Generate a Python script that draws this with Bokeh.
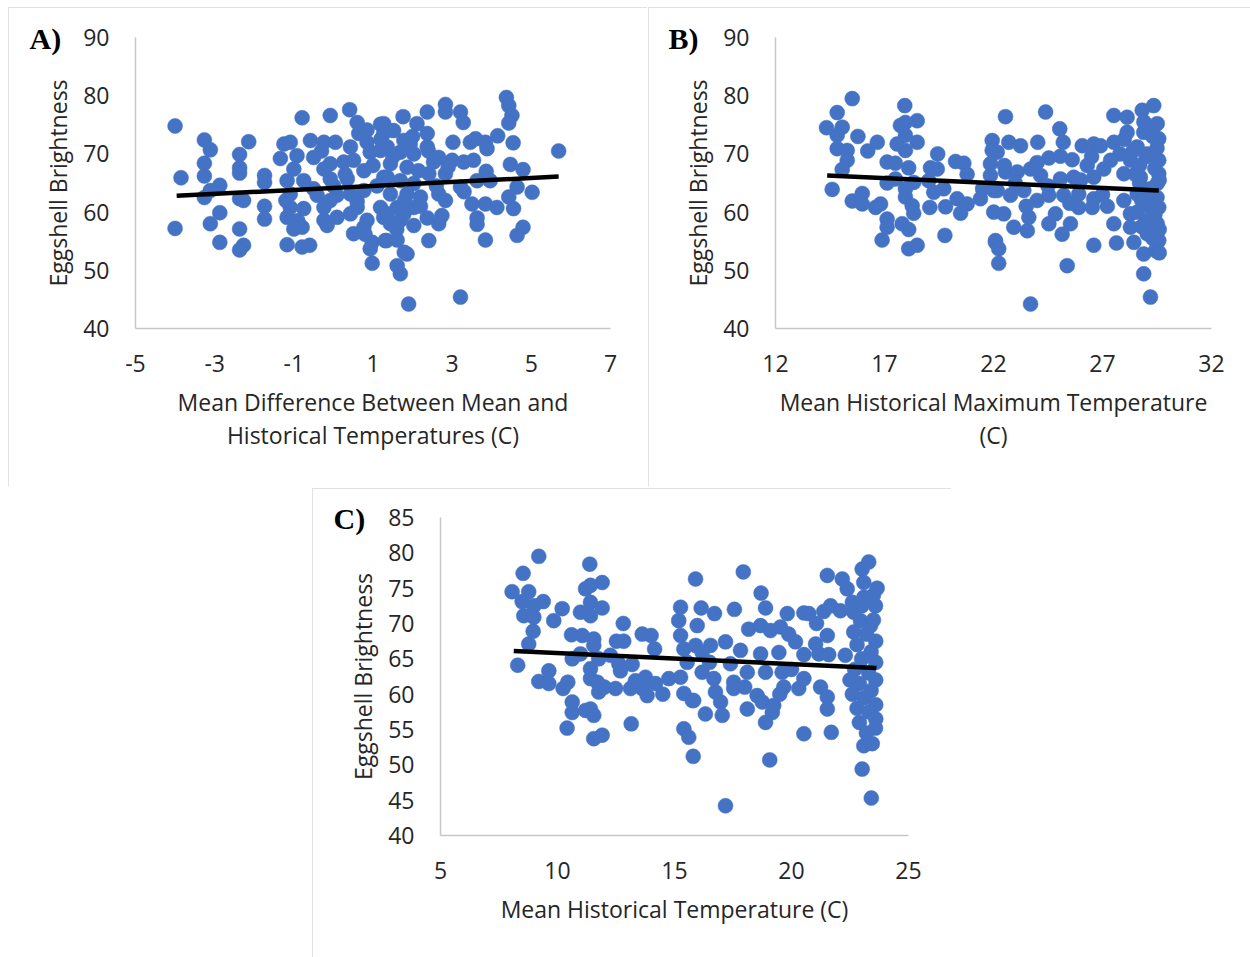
from bokeh.plotting import figure
from bokeh.layouts import column, row
from bokeh.models import Spacer, FixedTicker, Range1d
from bokeh.embed import file_html
from bokeh.resources import INLINE

FONT = "Open Sans"
BLUE = "#4472C4"
TXT = "#262626"

# ---------------- Panel A: mean difference vs brightness ----------------
a_x = [-4.0, -3.85, -4.0, -3.26, -3.11, -3.26, -3.26, -2.87, -3.11, -3.26,
       -2.87, -3.11, -2.87, -2.14, -2.37, -2.37, -2.37, -2.37, -2.27, -2.37,
       -2.27, -2.37, -1.74, -1.74, -1.74, -1.74, -1.17, -0.79, -0.08, 0.41,
       0.60, 0.85, 1.19, -0.79, -0.60, 0.98, 0.93, 0.98, 1.31, 0.51,
       -1.0, -0.79,
       -1.25, -1.34, -1.09, -0.58, -0.24, 0.05, 0.43, 0.64, 0.85, 1.27,
       -0.50, -0.92, -1.0, -0.75, -1.17, -0.08, -0.24, 0.26, 0.51, 0.93,
       1.19, -0.08, 0.35, 0.77, 1.27, -1.09, -0.41, 0.09, 0.43, 0.77,
       -1.09, -0.75, -0.24, -0.08, 0.60, 1.19, -1.17, -0.24, 0.09, 0.43,
       0.85, 1.27, -0.16, 0.77,
       4.37, 4.43, 4.51, 4.43, 4.54, 5.69, 4.15, 4.47, 4.79, 5.02,
       4.64, 4.43, 4.55, 4.79, 4.64, 3.84, 3.63, 3.63, 3.21, 1.90,
       1.69, 1.61, 1.86, 1.79, 2.41, 1.34, 1.61, 2.83, 2.83, 3.21,
       3.28, 2.37, 1.76, 2.11, 2.37, 2.37, 3.02, 3.46, 3.59, 3.84,
       3.88, 2.66, 2.53, 3.0, 3.29, 3.54, 3.86, 3.96, 3.63, 3.21,
       2.83, 2.41, 2.66, 2.83, 3.50, 3.84, 4.13, 2.74, 2.66, 2.37,
       2.03, 1.69, 1.44, 1.27, 1.52, 1.78, 1.94, 1.36, 1.69, 2.03,
       1.44, 1.86, 2.15, 1.36, 1.69, 2.03, 1.44, 1.86, 2.20, 1.61,
       2.03, 1.36, 1.78,
       1.5, 1.0, 0.3, -0.5, 1.8, 2.2, 0.6, 1.1, 2.6, 2.4,
       -0.3, 0.0, 1.6, 0.8, 2.9, -1.2, -0.9, 3.3, 1.2, 2.0]
a_y = [74.8, 65.9, 57.2, 72.4, 70.7, 68.4, 66.2, 64.6, 63.7, 62.5,
       59.9, 58.0, 54.8, 72.1, 69.9, 67.6, 66.7, 62.3, 62.0, 57.1,
       54.3, 53.5, 66.3, 65.1, 61.0, 58.8, 54.4, 76.2, 76.6, 77.6,
       75.4, 74.1, 75.1, 54.0, 54.3, 51.2, 53.7, 54.8, 55.1, 56.3,
       57.1, 57.4,
       71.7, 69.2, 72.0, 72.3, 72.0, 72.0, 71.2, 73.5, 72.0, 73.5,
       69.4, 69.7, 67.4, 65.4, 65.4, 68.3, 67.4, 68.6, 68.9, 70.3,
       70.6, 65.7, 65.7, 67.1, 66.0, 63.1, 62.9, 62.9, 63.1, 63.7,
       60.8, 60.6, 60.8, 62.0, 60.8, 60.8, 59.1, 58.6, 59.1, 59.7,
       58.6, 59.1, 57.7, 57.4,
       79.7, 78.3, 76.6, 75.3, 71.9, 70.5, 73.1, 68.2, 67.3, 63.4,
       64.3, 62.6, 60.6, 57.4, 56.0, 55.2, 59.0, 57.9, 45.4, 44.2,
       49.4, 50.8, 52.8, 53.1, 55.1, 55.1, 55.2, 78.5, 77.2, 77.2,
       75.4, 77.2, 76.4, 75.2, 73.5, 71.2, 72.0, 72.0, 72.6, 72.0,
       70.9, 69.4, 68.6, 68.9, 68.6, 68.9, 67.0, 65.4, 65.4, 64.3,
       66.6, 66.6, 63.1, 62.0, 61.4, 61.4, 60.8, 59.4, 58.0, 59.0,
       57.7, 58.6, 58.0, 75.2, 74.0, 72.3, 71.7, 71.2, 70.3, 70.0,
       68.3, 67.7, 67.1, 66.0, 65.4, 64.9, 63.1, 63.1, 62.6, 60.8,
       60.8, 59.7, 59.7,
       69.5, 68.0, 66.5, 64.0, 62.0, 61.0, 61.8, 64.5, 64.5, 70.5,
       70.5, 64.5, 57.0, 56.2, 67.8, 62.0, 58.5, 63.5, 72.5, 73.0]
a_trend_x = [-3.96, 5.69]
a_trend_y = [62.8, 66.1]
a_xticks = [-5, -3, -1, 1, 3, 5, 7]
a_xtick_labels = {-5: "-5", -3: "-3", -1: "-1", 1: "1", 3: "3", 5: "5", 7: "7"}

# ---------------- Panel B: historical maximum temperature ----------------
b_x = [15.52, 14.83, 14.34, 15.06, 14.83, 15.78, 14.83, 15.29, 15.29, 15.06,
       14.60, 15.52, 15.98, 15.98, 16.67, 16.23, 17.93, 18.50, 17.73, 17.96,
       17.58, 17.96, 18.50, 17.96, 17.12, 17.50, 18.11, 17.50, 17.12, 17.96,
       18.34, 16.82, 16.59, 17.96, 18.27, 18.34, 17.12, 17.12, 17.81, 18.11,
       16.89, 18.11, 18.50, 19.44, 19.11, 19.42, 19.03, 19.72, 19.26, 19.08,
       19.77, 19.80, 20.26, 20.64, 20.79, 20.33, 20.79, 20.49, 21.40, 21.94,
       21.94, 21.86, 21.86, 22.01, 22.01, 22.09, 22.24,
       22.55, 24.39, 25.04, 25.20, 24.03, 22.70, 23.24, 22.17, 22.55, 23.09,
       23.70, 24.16, 24.54, 25.07, 25.61, 26.07, 26.60, 26.91, 26.30, 25.07,
       25.68, 26.60, 27.06, 27.37, 27.52, 27.52, 28.13, 28.82, 29.35, 29.51,
       28.89, 29.58, 28.13, 28.59, 28.28, 29.05, 29.58, 27.98, 28.74, 29.58,
       22.17, 22.78, 23.39, 24.0, 24.54, 25.22, 25.91, 25.91, 26.60, 26.53,
       27.22, 24.84, 24.54, 25.53, 25.15, 22.47, 22.93, 23.55, 23.62, 22.09,
       22.24, 25.38, 23.70, 26.60, 27.64, 27.52, 27.98, 28.28, 28.28, 28.44,
       28.89, 29.43, 28.89, 29.20, 29.58, 29.20, 29.51, 29.05, 29.58, 28.59,
       29.51,
       29.3, 28.9, 29.5, 29.0, 29.4, 28.7, 29.6, 29.2, 28.8, 29.5,
       29.1, 28.6, 29.4, 29.0, 29.6, 28.8, 29.3, 29.6, 28.7, 28.4,
       29.3, 28.0, 27.8, 28.5, 23.0, 24.5, 26.0, 23.5, 25.5, 24.0,
       26.5, 22.5, 21.5, 27.0]
b_y = [79.5, 77.1, 74.5, 74.6, 73.2, 73.0, 70.9, 70.6, 68.9, 67.3,
       63.9, 61.9, 63.2, 61.4, 72.0, 70.5, 78.3, 75.7, 74.9, 75.4,
       71.7, 73.2, 72.0, 70.6, 68.6, 68.4, 67.6, 65.7, 65.0, 64.0,
       65.1, 61.4, 60.8, 62.6, 61.1, 59.8, 58.8, 57.4, 58.0, 57.0,
       55.2, 53.7, 54.3, 70.0, 67.6, 67.4, 65.4, 64.0, 63.4, 60.8,
       56.0, 60.9, 68.7, 68.4, 66.5, 62.3, 61.4, 59.8, 62.3, 72.3,
       70.6, 68.3, 66.3, 63.7, 60.0, 54.8, 51.2,
       76.4, 77.2, 74.3, 72.0, 72.0, 72.0, 71.4, 70.3, 66.9, 66.9,
       67.4, 66.3, 69.3, 69.6, 69.0, 71.4, 71.7, 71.4, 68.0, 65.7,
       66.0, 66.0, 67.4, 68.9, 72.0, 76.6, 76.3, 77.5, 78.3, 75.2,
       73.7, 72.6, 73.7, 71.2, 68.9, 70.0, 68.9, 66.6, 66.0, 66.6,
       63.7, 62.9, 63.7, 62.0, 62.9, 62.9, 63.1, 60.8, 62.3, 60.8,
       61.0, 59.7, 58.0, 58.0, 56.2, 59.7, 57.4, 56.8, 59.1, 55.1,
       53.7, 50.8, 44.2, 54.3, 54.7, 58.0, 62.0, 59.7, 57.4, 54.8,
       52.8, 53.4, 49.4, 45.4, 60.8, 63.1, 58.0, 56.3, 55.1, 63.1,
       64.9,
       74.0, 75.5, 71.0, 69.5, 67.5, 68.0, 65.5, 64.0, 62.0, 62.5,
       61.0, 60.0, 59.5, 58.5, 57.0, 57.5, 55.5, 53.0, 65.0, 70.5,
       73.0, 72.5, 70.0, 66.5, 65.0, 64.5, 65.5, 61.0, 61.5, 68.5,
       69.5, 68.0, 64.0, 63.0]
b_trend_x = [14.37, 29.58]
b_trend_y = [66.3, 63.7]
b_xticks = [12, 17, 22, 27, 32]

# ---------------- Panel C: historical mean temperature ----------------
c_x = [9.20, 8.53, 8.06, 8.77, 8.49, 8.99, 9.39, 8.56, 8.99, 8.96,
       8.77, 8.30, 9.20, 9.63, 9.63, 10.24, 10.44, 10.63, 10.63, 10.41,
       11.20, 11.55, 11.41, 11.55, 11.91, 9.84, 10.20, 11.38, 11.91, 11.20,
       11.41, 11.41, 10.98, 11.41, 11.91, 10.60, 11.06, 11.55, 11.55, 10.98,
       10.63, 11.76, 12.26, 11.41, 11.41, 11.70, 11.76, 12.48, 12.81, 12.52,
       12.83, 12.62, 12.69, 13.19, 13.15, 13.12, 13.33, 13.62, 13.83, 13.76,
       14.19, 13.62, 14.0, 14.15, 14.76, 15.26, 15.26, 15.18, 15.26, 15.40,
       15.54, 15.40, 15.76, 15.40, 15.61, 15.80, 15.90, 15.97, 15.90,
       17.94, 18.70, 18.89, 17.56, 16.14, 16.71, 18.17, 18.68, 19.10, 19.53,
       19.82, 20.53, 20.74, 21.07, 19.88, 20.17, 21.53, 22.17, 22.38, 21.38,
       21.67, 22.09, 22.66, 23.02, 23.30, 23.09, 23.66, 23.09, 23.59, 22.95,
       23.38, 22.66, 21.53, 21.03, 21.17, 21.59, 20.53, 19.46, 18.68, 17.82,
       17.18, 16.54, 16.18, 17.39, 18.11, 18.89, 19.60, 16.18, 16.68, 17.53,
       17.53, 19.67, 20.31, 20.53, 21.24, 15.82, 16.75, 16.97, 16.32, 17.04,
       18.53, 18.75, 19.24, 19.18, 18.89, 18.11, 21.53, 21.53, 19.07, 20.53,
       21.70, 17.18, 23.02, 23.41, 23.09, 23.45, 23.59,
       23.5, 23.2, 23.6, 22.8, 23.4, 23.0, 23.6, 22.7, 23.3, 23.6,
       22.9, 23.4, 22.6, 23.1, 23.6, 22.8, 23.3, 23.6, 22.9, 23.2,
       22.5, 22.3, 23.5, 23.0, 22.6, 16.5, 18.0, 20.0, 14.5, 12.0,
       19.5]
c_y = [79.5, 77.1, 74.5, 74.5, 73.1, 72.5, 73.1, 71.1, 70.9, 68.9,
       67.1, 64.1, 61.8, 63.3, 61.5, 60.8, 61.7, 58.9, 57.4, 55.2,
       57.7, 57.0, 57.9, 53.7, 54.2, 70.4, 72.1, 78.4, 75.8, 74.9,
       75.4, 73.0, 71.6, 71.1, 72.2, 68.4, 68.3, 67.8, 66.9, 65.7,
       65.0, 65.0, 65.5, 63.6, 62.2, 61.7, 60.3, 60.8, 70.0, 67.5,
       67.5, 64.3, 63.3, 64.2, 55.8, 60.8, 61.9, 60.8, 59.8, 62.4,
       61.5, 68.5, 68.3, 66.4, 62.2, 62.4, 72.3, 70.4, 68.3, 66.4,
       64.5, 60.1, 59.1, 55.1, 53.9, 51.2, 76.3, 69.7, 66.9,
       77.3, 74.3, 72.2, 72.0, 72.2, 71.4, 69.2, 69.7, 69.0, 69.5,
       71.4, 71.5, 71.4, 70.0, 68.5, 67.4, 76.8, 76.3, 74.9, 71.7,
       72.5, 71.8, 71.6, 77.7, 78.7, 75.8, 75.0, 73.7, 72.5, 70.4,
       69.7, 68.8, 68.3, 67.1, 65.7, 65.6, 65.6, 65.9, 65.7, 66.2,
       67.4, 66.9, 65.9, 64.3, 63.1, 63.1, 63.1, 63.1, 62.2, 61.7,
       60.8, 61.0, 60.8, 62.2, 61.0, 59.1, 60.3, 58.9, 57.2, 57.0,
       59.8, 58.9, 58.4, 57.4, 56.0, 57.9, 59.6, 57.9, 50.7, 54.4,
       54.6, 44.2, 49.4, 45.3, 52.7, 53.0, 55.2,
       70.5, 68.5, 67.5, 67.0, 66.0, 65.0, 64.5, 63.5, 63.0, 62.0,
       61.5, 60.5, 60.0, 59.5, 58.5, 58.0, 57.5, 56.5, 56.0, 54.5,
       62.0, 65.5, 74.0, 72.5, 73.0, 64.5, 61.0, 63.5, 60.0, 61.0,
       60.0]
c_trend_x = [8.13, 23.63]
c_trend_y = [66.1, 63.7]
c_xticks = [5, 10, 15, 20, 25]

ab_yticks = [40, 50, 60, 70, 80, 90]
c_yticks = [40, 45, 50, 55, 60, 65, 70, 75, 80, 85]


def panel(w, h, xr, yr, xticks, yticks, bl, br, bt, bb, xlabel, xs, ys, tx, ty,
          tag, tag_offset):
    p = figure(width=w, height=h, x_range=Range1d(*xr), y_range=Range1d(*yr),
               output_backend="svg", toolbar_location=None,
               min_border_left=bl, min_border_right=br,
               min_border_top=bt, min_border_bottom=bb,
               styles={"outline": "2px solid #d9d9d9", "outline-offset": "-2px"})
    p.outline_line_color = None
    p.background_fill_color = "white"
    p.border_fill_color = "white"
    p.grid.visible = False
    for ax in (p.xaxis[0], p.yaxis[0]):
        ax.axis_line_color = "#c6c6c6"
        ax.axis_line_width = 1.5
        ax.major_tick_line_color = None
        ax.minor_tick_line_color = None
        ax.major_label_text_font = FONT
        ax.major_label_text_font_size = "23px"
        ax.major_label_text_color = TXT
        ax.axis_label_text_font = FONT
        ax.axis_label_text_font_size = "23px"
        ax.axis_label_text_font_style = "normal"
        ax.axis_label_text_color = TXT
    p.xaxis.ticker = FixedTicker(ticks=xticks)
    p.yaxis.ticker = FixedTicker(ticks=yticks)
    p.xaxis.major_label_standoff = 20
    p.yaxis.major_label_standoff = 20
    p.xaxis.axis_label = xlabel
    p.xaxis.axis_label_text_line_height = 1.05
    p.xaxis.axis_label_standoff = 11
    p.yaxis.axis_label = "Eggshell Brightness"
    p.yaxis.axis_label_standoff = 6
    # panel tag, e.g. "A)"
    p.title.text = tag
    p.title.align = "left"
    p.title.offset = tag_offset
    p.title.vertical_align = "bottom"
    p.title.standoff = -34
    p.title.text_font = "Liberation Serif"
    p.title.text_font_style = "bold"
    p.title.text_font_size = "30px"
    p.title.text_color = "black"
    p.scatter(xs, ys, size=15, fill_color=BLUE, line_color=BLUE, line_width=0.5)
    p.line(tx, ty, line_color="black", line_width=4.5)
    return p


pA = panel(639, 479, (-5, 7), (40, 90), a_xticks, ab_yticks, 127, 37, 30, 158,
           "Mean Difference Between Mean and\nHistorical Temperatures (C)",
           a_x, a_y, a_trend_x, a_trend_y, "A)", -106)
pA.xaxis.major_label_overrides = a_xtick_labels
pB = panel(602, 479, (12, 32), (40, 90), b_xticks, ab_yticks, 127, 39, 30, 158,
           "Mean Historical Maximum Temperature\n(C)",
           b_x, b_y, b_trend_x, b_trend_y, "B)", -107)
pC = panel(639, 469, (5, 25), (40, 85), c_xticks, c_yticks, 128, 43, 29, 122,
           "Mean Historical Temperature (C)",
           c_x, c_y, c_trend_x, c_trend_y, "C)", -107)

layout = column(
    Spacer(height=7),
    row(Spacer(width=8), pA, Spacer(width=1), pB),
    Spacer(height=2),
    row(Spacer(width=312), pC),
)

open("out.html", "w").write(file_html(layout, INLINE))
